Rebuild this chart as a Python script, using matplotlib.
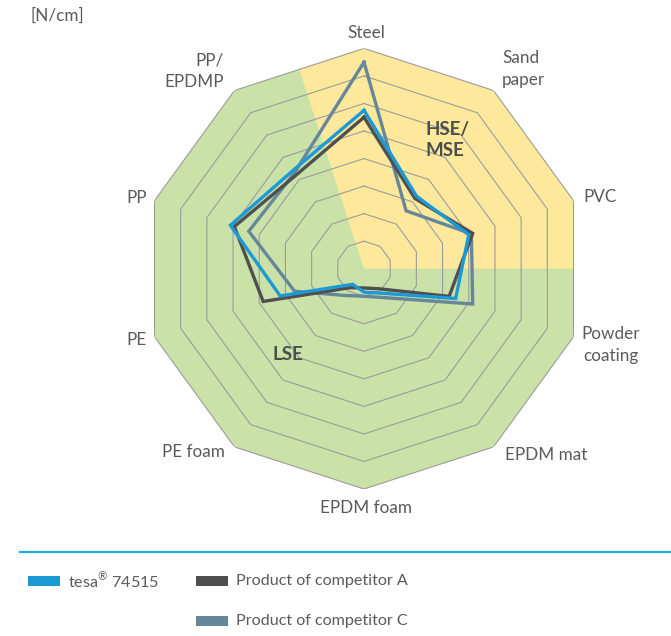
import numpy as np
import matplotlib.pyplot as plt
from matplotlib.patches import Rectangle
from matplotlib.lines import Line2D

# radar categories, clockwise from the top
categories = ['Steel', 'Sand\npaper', 'PVC', 'Powder\ncoating', 'EPDM mat',
              'EPDM foam', 'PE foam', 'PE', 'PP', 'PP/\nEPDMP']

# values (in grid rings)
tesa = [5.75, 3.25, 4.0, 3.5, 1.1, 0.85, 0.7, 3.2, 5.1, 4.4]
comp_a = [5.5, 3.15, 4.15, 3.25, 0.9, 0.7, 0.85, 3.85, 4.95, 4.2]
comp_c = [7.5, 2.6, 4.1, 4.15, 1.3, 1.0, 1.2, 2.65, 4.4, 4.3]

series_names = ['tesa$^{\\mathrm{®}}$ 74515', 'Product of competitor A',
                'Product of competitor C']
n_rings = 8

# colours
blue = '#1b9ad6'
dark = '#4f4f4f'
slate = '#66869a'
green = '#cae1a8'
yellow = '#fde89c'
grid_col = '#9c9c9c'
txt_col = '#5a5a5c'

plt.rcParams['font.family'] = ['Lato', 'DejaVu Sans']
plt.rcParams['mathtext.fontset'] = 'custom'
plt.rcParams['mathtext.rm'] = 'Lato'

W, H = 671, 636
fig = plt.figure(figsize=(W / 100, H / 100), dpi=100)


def px(x, y):
    # pixel position -> figure fraction
    return x / W, 1 - y / H


cx, cy, R = 364, 268.7, 220.3
ax = fig.add_axes([(cx - R) / W, 1 - (cy + R) / H, 2 * R / W, 2 * R / H],
                  projection='polar')
ax.set_theta_zero_location('N')
ax.set_theta_direction(-1)
ax.set_ylim(0, n_rings)
ax.axis('off')

n = len(categories)
angles = np.arange(n) * 2 * np.pi / n
closed = np.append(angles, angles[0])

# background zones: green decagon, yellow HSE/MSE sector
ax.fill(closed, [n_rings] * (n + 1), color=green, lw=0, zorder=0)
half = np.pi / n
edge_r = n_rings * np.cos(half)
ax.fill([0, -half, angles[0], angles[1], angles[2], np.pi / 2],
        [0, edge_r, n_rings, n_rings, n_rings, edge_r],
        color=yellow, lw=0, zorder=1)

# decagon rings
for k in range(1, n_rings + 1):
    ax.plot(closed, [k] * (n + 1), color=grid_col, lw=0.8, zorder=2)

# data lines
for vals, col, z in [(comp_c, slate, 3), (comp_a, dark, 4), (tesa, blue, 5)]:
    ax.plot(closed, np.append(vals, vals[0]), color=col, lw=2.4,
            solid_joinstyle='miter', zorder=z, clip_on=False)

# category labels
fs = 12.3
lab_pos = [
    (366, 33, 'center'), (502, 69, 'left'), (583, 197, 'left'),
    (611, 345, 'center'), (505, 455, 'left'), (366, 508, 'center'),
    (225, 452, 'right'), (147, 340, 'right'), (147, 198, 'right'),
    (224, 71, 'right'),
]
for name, (x, y, ha) in zip(categories, lab_pos):
    fig.text(*px(x, y), name, ha=ha, va='center', fontsize=fs,
             color=txt_col, linespacing=1.45, multialignment=ha)

fig.text(*px(30, 16), '[N/cm]', ha='left', va='center', fontsize=fs, color=txt_col)

# zone labels
fig.text(*px(425, 140), 'HSE/\nMSE', ha='left', va='center', fontsize=13.5,
         fontweight='bold', color='#4d4d4d', linespacing=1.3)
fig.text(*px(273, 355), 'LSE', ha='left', va='center', fontsize=13.5,
         fontweight='bold', color='#4d4d4d')

# separator line
fig.add_artist(Line2D([20 / W, 1], [1 - 552 / H] * 2, color='#22a8e0', lw=1.6))

# legend
leg = [(28, 581, blue), (196, 581, dark), (196, 621, slate)]
for name, (x, y, col) in zip(series_names, leg):
    fig.add_artist(Rectangle(px(x, y + 5), 32 / W, 10 / H, color=col, lw=0))
    fig.text(*px(x + 40, y), name, ha='left', va='center', fontsize=11.6,
             color=txt_col)

fig.savefig('out.png', dpi=100)
